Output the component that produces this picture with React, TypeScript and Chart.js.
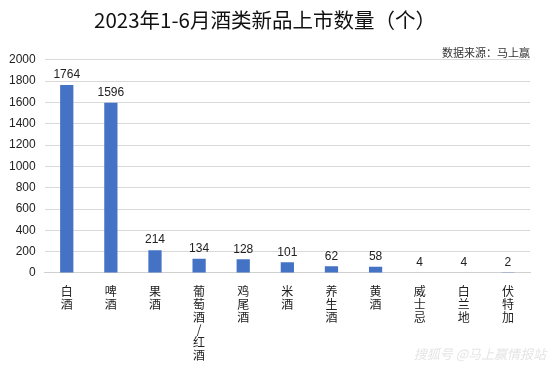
import { useEffect, useRef } from 'react';
import { Chart, registerables } from 'chart.js';
Chart.register(...registerables);

const titleText = '2023年1-6月酒类新品上市数量（个）';
const sourceText = '数据来源：马上赢';
const watermarkText = '搜狐号 @马上赢情报站';
const categories = ['白酒', '啤酒', '果酒', '葡萄酒/红酒', '鸡尾酒', '米酒', '养生酒', '黄酒', '威士忌', '白兰地', '伏特加'];
const values = [1764, 1596, 214, 134, 128, 101, 62, 58, 4, 4, 2];
const yMin = 0;
const yMax = 2000;
const yStep = 200;

const CJK = '"Noto Sans CJK SC", sans-serif';
const LATIN = '"Liberation Sans", Arial, sans-serif';

const valueLabels = {
  id: 'valueLabels',
  afterDatasetsDraw(chart: any) {
    const ctx = chart.ctx;
    const meta = chart.getDatasetMeta(0);
    ctx.save();
    ctx.font = `12px ${LATIN}`;
    ctx.fillStyle = '#222';
    ctx.textAlign = 'center';
    ctx.textBaseline = 'bottom';
    meta.data.forEach((el: any, i: number) => {
      ctx.fillText(String(values[i]), el.x, el.y - 4);
    });
    ctx.restore();
  },
};

const watermark = {
  id: 'watermark',
  afterDraw(chart: any) {
    const ctx = chart.ctx;
    ctx.save();
    ctx.font = `italic 13px ${CJK}`;
    ctx.fillStyle = 'rgba(205,205,205,0.55)';
    ctx.textAlign = 'right';
    ctx.textBaseline = 'middle';
    ctx.fillText(watermarkText, chart.width - 6, chart.height - 14);
    ctx.restore();
  },
};

export default function App() {
  const ref = useRef<HTMLCanvasElement>(null);
  useEffect(() => {
    document.body.style.margin = '0';
    const chart = new Chart(ref.current!, {
      type: 'bar',
      data: {
        labels: categories.map((c) => Array.from(c)),
        datasets: [
          {
            data: values,
            backgroundColor: '#4472C4',
            barPercentage: 0.6,
            categoryPercentage: 0.5,
          },
        ],
      },
      options: {
        responsive: false,
        animation: false,
        layout: { padding: { left: 0, right: 22, top: 0, bottom: -6 } },
        plugins: {
          legend: { display: false },
          tooltip: { enabled: false },
          title: {
            display: true,
            text: titleText,
            color: '#111',
            font: { family: CJK, size: 20.5, weight: 'normal' },
            padding: { top: 8, bottom: 0 },
          },
          subtitle: {
            display: true,
            text: sourceText,
            align: 'end',
            color: '#333',
            font: { family: CJK, size: 11 },
            padding: { top: 14, bottom: 0 },
          },
        },
        scales: {
          x: {
            grid: { display: false, drawTicks: false },
            border: { display: true, color: '#d0d0d0' },
            ticks: {
              color: '#222',
              font: { family: CJK, size: 12, lineHeight: 1.07 },
              maxRotation: 0,
              autoSkip: false,
              padding: 12,
            },
          },
          y: {
            min: yMin,
            max: yMax,
            grid: { color: '#d9d9d9', drawTicks: false },
            border: { display: false },
            ticks: {
              stepSize: yStep,
              color: '#222',
              font: { family: LATIN, size: 12 },
              padding: 9,
              callback: (v: any) => String(v),
            },
          },
        },
      },
      plugins: [valueLabels, watermark],
    });
    return () => chart.destroy();
  }, []);
  return <canvas ref={ref} width={552} height={368} />;
}
